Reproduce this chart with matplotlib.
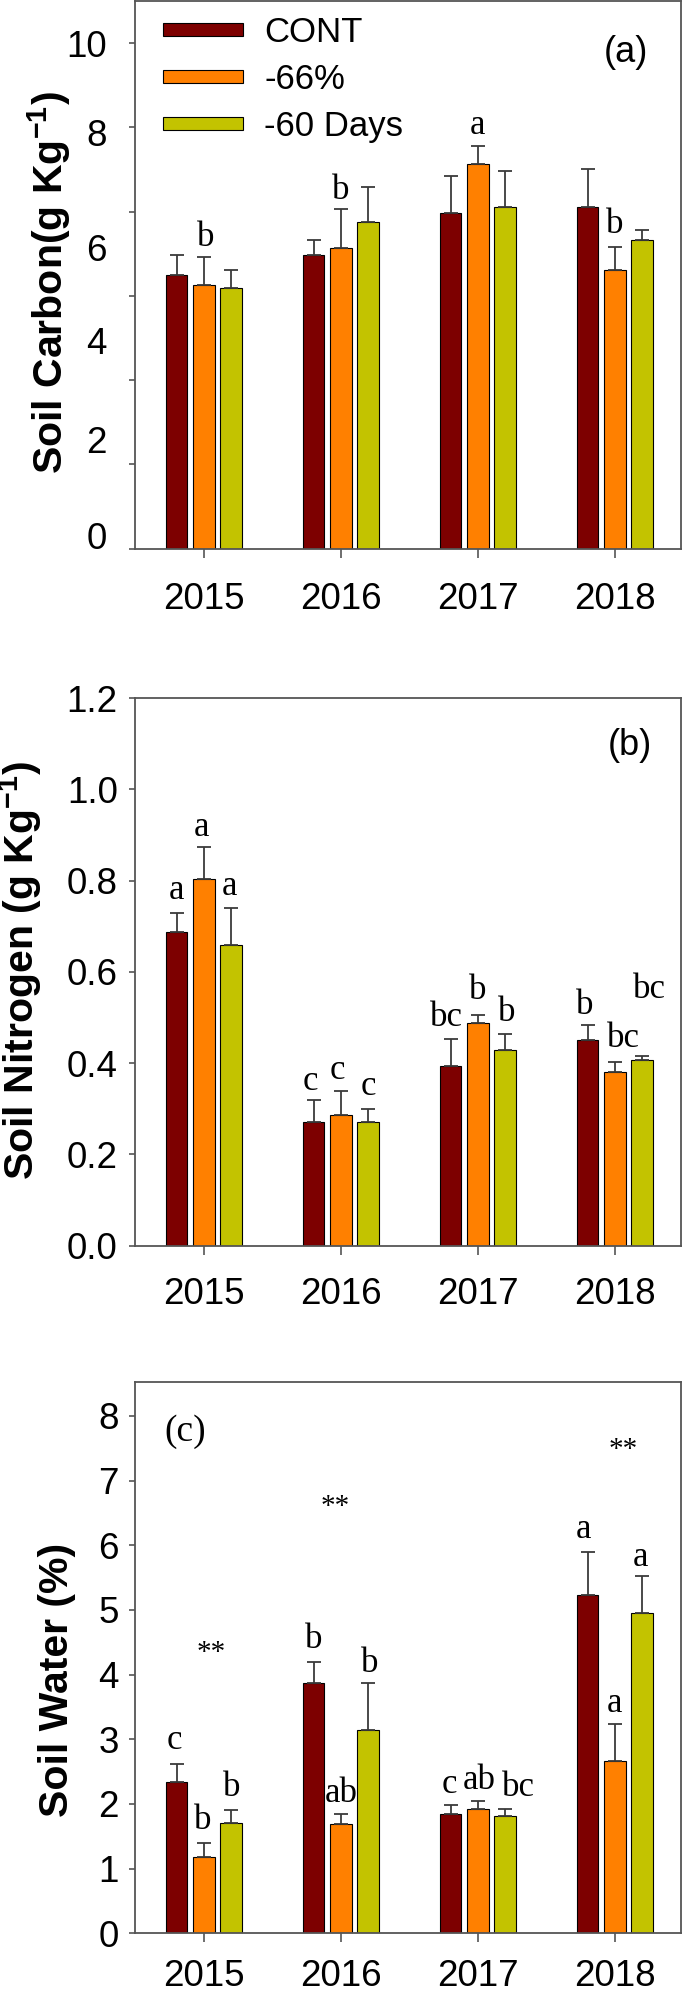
import numpy as np
import matplotlib
matplotlib.use('Agg')
import matplotlib.pyplot as plt

plt.rcParams['font.family'] = ['Liberation Sans', 'DejaVu Sans']
plt.rcParams['mathtext.fontset'] = 'custom'
plt.rcParams['mathtext.rm'] = 'Liberation Sans'
plt.rcParams['mathtext.bf'] = 'Liberation Sans:bold'
plt.rcParams['mathtext.it'] = 'Liberation Sans:italic'

years = ['2015', '2016', '2017', '2018']
treatments = ['CONT', '-66%', '-60 Days']
colors = ['#7d0000', '#ff8000', '#c3c300']

# soil carbon (g/kg), bar means and upper error
carbon_cont = [5.42, 5.80, 6.64, 6.76]
carbon_cont_se = [0.38, 0.30, 0.73, 0.74]
carbon_66 = [5.22, 5.95, 7.61, 5.52]
carbon_66_se = [0.55, 0.77, 0.36, 0.44]
carbon_60 = [5.15, 6.45, 6.76, 6.10]
carbon_60_se = [0.37, 0.71, 0.71, 0.21]
carbon_tick_labels = ['10', '8', '6', '4', '2', '0']
carbon_tick_pos = [10.0, 8.24, 5.95, 4.12, 2.15, 0.25]

# soil nitrogen (g/kg)
nitrogen_cont = [0.688, 0.272, 0.393, 0.450]
nitrogen_cont_se = [0.040, 0.047, 0.059, 0.033]
nitrogen_66 = [0.804, 0.287, 0.487, 0.381]
nitrogen_66_se = [0.070, 0.052, 0.018, 0.022]
nitrogen_60 = [0.658, 0.272, 0.430, 0.407]
nitrogen_60_se = [0.082, 0.028, 0.034, 0.009]

# soil water (%)
water_cont = [2.344, 3.864, 1.847, 5.227]
water_cont_se = [0.273, 0.326, 0.129, 0.667]
water_66 = [1.172, 1.683, 1.922, 2.658]
water_66_se = [0.218, 0.164, 0.129, 0.572]
water_60 = [1.704, 3.141, 1.819, 4.954]
water_60_se = [0.197, 0.723, 0.103, 0.566]

# significance letters (text, x in year units, y in data units)
carbon_letters = [('b', 0.01, 6.15), ('b', 1.0, 7.09), ('a', 2.0, 8.375), ('b', 3.0, 6.42)]
nitrogen_letters = [('a', -0.197, 0.778), ('a', -0.016, 0.917), ('a', 0.19, 0.787),
                    ('c', 0.78, 0.359), ('c', 0.975, 0.383), ('c', 1.2, 0.350),
                    ('bc', 1.77, 0.500), ('b', 2.0, 0.559), ('b', 2.21, 0.511),
                    ('b', 2.78, 0.526), ('bc', 3.064, 0.454), ('bc', 3.25, 0.561)]
water_letters = [('c', -0.213, 2.98), ('b', -0.006, 1.75), ('b', 0.2, 2.26),
                 ('b', 0.8, 4.55), ('ab', 1.006, 2.16), ('b', 1.21, 4.17),
                 ('c', 1.79, 2.30), ('ab', 2.01, 2.36), ('bc', 2.296, 2.26),
                 ('a', 2.77, 6.25), ('a', 2.994, 3.56), ('a', 3.184, 5.81)]
water_stars = [('**', 0.05, 4.34), ('**', 0.96, 6.59), ('**', 3.064, 7.48)]

SPINE = '#555555'


def draw_bars(ax, means, errs):
    x = np.arange(len(years))
    bars = []
    for i in range(len(treatments)):
        b = ax.bar(x + (i - 1) * 0.2, means[i], width=0.16, color=colors[i],
                   edgecolor='black', linewidth=0.8, label=treatments[i],
                   yerr=[np.zeros(len(years)), errs[i]], capsize=5,
                   error_kw=dict(ecolor='#3a3a3a', elinewidth=1.3, capthick=1.3))
        bars.append(b)
    return bars


def style_axes(ax, xpad, ypad):
    for s in ax.spines.values():
        s.set_color(SPINE)
        s.set_linewidth(1.3)
    ax.set_xlim(-0.506, 3.484)
    ax.set_xticks(np.arange(len(years)), years)
    ax.tick_params(axis='x', which='major', direction='out', length=6.5, width=1.2,
                   color=SPINE, labelsize=26.5, pad=xpad)
    ax.tick_params(axis='y', which='major', direction='out', length=4.5, width=1.2,
                   color=SPINE, labelsize=26.5, pad=ypad)


def add_letters(ax, letters, size=25):
    for s, x, y in letters:
        ax.text(x, y, s, ha='center', va='center', fontsize=size, family='Liberation Serif')


def main():
    fig = plt.figure(figsize=(6.85, 19.91), dpi=100)
    left, width = 0.1965, 0.798
    ax_c = fig.add_axes([left, 0.7245, width, 0.2752])
    ax_n = fig.add_axes([left, 0.3743, width, 0.2751])
    ax_w = fig.add_axes([left, 0.0290, width, 0.2767])

    # (a) carbon
    bars = draw_bars(ax_c, [carbon_cont, carbon_66, carbon_60], [carbon_cont_se, carbon_66_se, carbon_60_se])
    style_axes(ax_c, 17.5, 0)
    ax_c.set_ylim(0, 10.84)
    ax_c.yaxis.remove_overlapping_locs = False
    ax_c.set_yticks(np.linspace(0, 10, 7), [''] * 7)
    ax_c.set_yticks(carbon_tick_pos, carbon_tick_labels, minor=True)
    ax_c.tick_params(axis='y', which='minor', length=0, labelsize=26.5, pad=19.9)
    ax_c.set_ylabel(r'Soil Carbon(g Kg$^{\mathbf{-1}}$)', fontsize=29.5, fontweight='bold', va='center')
    ax_c.yaxis.set_label_coords(-0.1565, 0.4845)
    add_letters(ax_c, carbon_letters)
    ax_c.text(3.08, 9.82, '(a)', ha='center', va='center', fontsize=26)
    ax_c.legend(bars, treatments, loc='upper left', bbox_to_anchor=(0.052, 0.972), frameon=False,
                fontsize=25, handlelength=2.3, handleheight=0.2, handletextpad=0.62,
                labelspacing=0.4, borderpad=0, borderaxespad=0)

    # (b) nitrogen
    draw_bars(ax_n, [nitrogen_cont, nitrogen_66, nitrogen_60], [nitrogen_cont_se, nitrogen_66_se, nitrogen_60_se])
    style_axes(ax_n, 16, 7.6)
    ax_n.set_ylim(0, 1.2)
    ax_n.set_yticks(np.arange(0, 1.21, 0.2), ['%.1f' % v for v in np.arange(0, 1.21, 0.2)])
    ax_n.set_ylabel(r'Soil Nitrogen (g Kg$^{\mathbf{-1}}$)', fontsize=29.5, fontweight='bold', va='center')
    ax_n.yaxis.set_label_coords(-0.2095, 0.5035)
    add_letters(ax_n, nitrogen_letters)
    ax_n.text(3.11, 1.096, '(b)', ha='center', va='center', fontsize=26)

    # (c) water
    draw_bars(ax_w, [water_cont, water_66, water_60], [water_cont_se, water_66_se, water_60_se])
    style_axes(ax_w, 12.2, 6.9)
    ax_w.set_ylim(0, 8.52)
    ax_w.set_yticks(np.arange(0, 9), [str(v) for v in range(9)])
    ax_w.set_ylabel('Soil Water (%)', fontsize=29.5, fontweight='bold', va='center')
    ax_w.yaxis.set_label_coords(-0.142, 0.46)
    add_letters(ax_w, water_letters)
    add_letters(ax_w, water_stars, size=21)
    ax_w.text(-0.134, 7.75, '(c)', ha='center', va='center', fontsize=27, family='Liberation Serif')

    fig.savefig('out.png', dpi=100)


if __name__ == '__main__':
    main()
